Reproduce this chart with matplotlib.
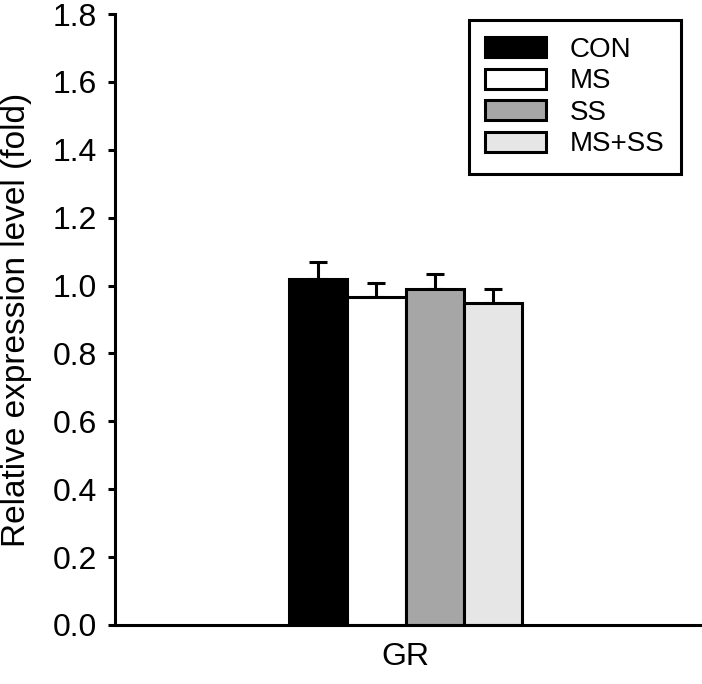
import numpy as np
import matplotlib
matplotlib.use("Agg")
import matplotlib.pyplot as plt

plt.rcParams['font.family'] = ['Liberation Sans', 'DejaVu Sans']

groups = ["CON", "MS", "SS", "MS+SS"]
values = [1.02, 0.965, 0.99, 0.948]
errors = [0.05, 0.042, 0.045, 0.043]
colors = ["#000000", "#ffffff", "#a6a6a6", "#e6e6e6"]
gene = "GR"

fig = plt.figure(figsize=(7.02, 6.84), dpi=100)
ax = fig.add_axes([115 / 702, 59 / 684, 587 / 702, 611 / 684])

x = np.arange(len(groups)) - (len(groups) - 1) / 2
lw = 2.2
for xi, v, e, c, name in zip(x, values, errors, colors, groups):
    ax.bar(xi, v, width=1.0, color=c, edgecolor="black", linewidth=lw, label=name, zorder=2)
    ax.errorbar(xi, v, yerr=[[0], [e]], fmt="none", ecolor="black",
                elinewidth=lw, capsize=6.5, capthick=lw, zorder=1)

ax.set_xlim(-4.98, 5.08)
ax.set_ylim(0, 1.8)
ticks = np.arange(0, 1.81, 0.2)
ax.set_yticks(ticks)
ax.set_yticklabels([f"{t:.1f}" for t in ticks])
ax.set_xticks([0])
ax.set_xticklabels([gene])
ax.tick_params(axis="y", direction="out", length=5, width=lw, labelsize=23, pad=8)
ax.tick_params(axis="x", length=0, labelsize=23, pad=12)
ax.set_ylabel("Relative expression level (fold)", fontsize=24)
ax.yaxis.set_label_coords(-0.142, 0.5)

for s in ["top", "right"]:
    ax.spines[s].set_visible(False)
for s in ["left", "bottom"]:
    ax.spines[s].set_linewidth(lw)

leg = ax.legend(loc="upper right", bbox_to_anchor=(0.964, 0.99), fontsize=20,
                frameon=True, fancybox=False, edgecolor="black",
                handlelength=2.2, handleheight=0.72, handletextpad=0.83,
                labelspacing=0.2, borderpad=0.6, borderaxespad=0)
leg.get_frame().set_linewidth(lw)
leg.get_frame().set_alpha(1)

fig.savefig("out.png", dpi=100)
